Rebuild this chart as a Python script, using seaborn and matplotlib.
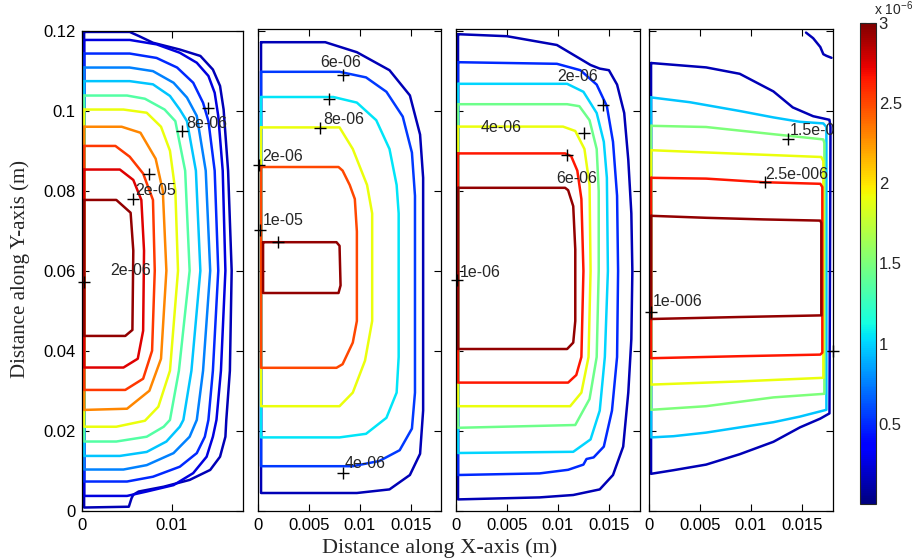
import matplotlib
matplotlib.use("Agg")
import matplotlib.pyplot as plt
import seaborn as sns
import pandas as pd
from matplotlib.cm import ScalarMappable
from matplotlib.colors import Normalize

# ---- data: contour levels (x 1e-6, colour bar scale) and outline vertices in metres ----
p1_levels = [0.15, 0.25, 0.5, 0.75, 0.95, 1.35, 1.9, 2.3, 2.55, 2.75, 2.95]
p1_xs = [
    [0.0002, 0.0053, 0.0063, 0.0079, 0.0109, 0.0132, 0.0146, 0.0154, 0.0158, 0.0163, 0.0167, 0.0165, 0.0161, 0.0160, 0.0154, 0.0143, 0.0120, 0.0091, 0.0063, 0.0057, 0.0055, 0.0052, 0.0002],
    [0.0002, 0.0053, 0.0083, 0.0109, 0.0128, 0.0141, 0.0148, 0.0152, 0.0157, 0.0160, 0.0155, 0.0150, 0.0146, 0.0139, 0.0124, 0.0102, 0.0072, 0.0050, 0.0002],
    [0.0002, 0.0053, 0.0083, 0.0106, 0.0124, 0.0135, 0.0141, 0.0148, 0.0152, 0.0146, 0.0141, 0.0137, 0.0128, 0.0109, 0.0079, 0.0050, 0.0002],
    [0.0002, 0.0053, 0.0079, 0.0102, 0.0117, 0.0128, 0.0138, 0.0143, 0.0135, 0.0128, 0.0120, 0.0102, 0.0072, 0.0046, 0.0002],
    [0.0002, 0.0053, 0.0079, 0.0098, 0.0109, 0.0117, 0.0127, 0.0132, 0.0122, 0.0113, 0.0109, 0.0094, 0.0072, 0.0042, 0.0002],
    [0.0002, 0.0050, 0.0070, 0.0092, 0.0104, 0.0115, 0.0120, 0.0108, 0.0098, 0.0091, 0.0072, 0.0038, 0.0002],
    [0.0002, 0.0046, 0.0072, 0.0088, 0.0098, 0.0104, 0.0107, 0.0098, 0.0085, 0.0070, 0.0038, 0.0002],
    [0.0002, 0.0044, 0.0065, 0.0082, 0.0090, 0.0094, 0.0088, 0.0075, 0.0050, 0.0002],
    [0.0002, 0.0037, 0.0053, 0.0068, 0.0079, 0.0081, 0.0078, 0.0068, 0.0048, 0.0002],
    [0.0002, 0.0042, 0.0057, 0.0066, 0.0069, 0.0068, 0.0062, 0.0046, 0.0002],
    [0.0002, 0.0038, 0.0054, 0.0057, 0.0056, 0.0048, 0.0002],
]
p1_ys = [
    [0.1197, 0.1197, 0.1187, 0.1170, 0.1153, 0.1137, 0.1103, 0.1062, 0.1003, 0.0850, 0.0600, 0.0350, 0.0227, 0.0185, 0.0135, 0.0102, 0.0077, 0.0060, 0.0048, 0.0040, 0.0031, 0.0010, 0.0008],
    [0.1177, 0.1177, 0.1166, 0.1145, 0.1120, 0.1087, 0.1045, 0.0987, 0.0850, 0.0600, 0.0350, 0.0227, 0.0185, 0.0135, 0.0094, 0.0064, 0.0048, 0.0037, 0.0037],
    [0.1143, 0.1143, 0.1132, 0.1108, 0.1070, 0.1020, 0.0974, 0.0850, 0.0600, 0.0350, 0.0227, 0.0185, 0.0144, 0.0110, 0.0085, 0.0073, 0.0073],
    [0.1108, 0.1108, 0.1099, 0.1070, 0.1033, 0.0987, 0.0850, 0.0600, 0.0350, 0.0227, 0.0185, 0.0144, 0.0114, 0.0103, 0.0103],
    [0.1074, 0.1074, 0.1066, 0.1037, 0.1003, 0.0974, 0.0850, 0.0600, 0.0350, 0.0227, 0.0210, 0.0173, 0.0147, 0.0137, 0.0137],
    [0.1038, 0.1038, 0.1030, 0.1003, 0.0974, 0.0850, 0.0600, 0.0350, 0.0227, 0.0210, 0.0185, 0.0173, 0.0173],
    [0.1003, 0.1003, 0.0995, 0.0960, 0.0900, 0.0800, 0.0600, 0.0350, 0.0260, 0.0225, 0.0210, 0.0210],
    [0.0960, 0.0960, 0.0945, 0.0880, 0.0800, 0.0600, 0.0380, 0.0300, 0.0255, 0.0252],
    [0.0912, 0.0912, 0.0885, 0.0843, 0.0777, 0.0600, 0.0400, 0.0330, 0.0302, 0.0302],
    [0.0853, 0.0853, 0.0827, 0.0777, 0.0650, 0.0450, 0.0380, 0.0358, 0.0358],
    [0.0777, 0.0777, 0.0745, 0.0650, 0.0452, 0.0437, 0.0437],
]
p1_mark_x = [0.0111, 0.0141, 0.0074, 0.0057, 0.0002]
p1_mark_y = [0.0949, 0.1006, 0.0842, 0.0779, 0.0572]
p1_labels = ["8e-06", "2e-05", "2e-06"]
p1_label_x = [0.0139, 0.0082, 0.0054]
p1_label_y = [0.0969, 0.0800, 0.0600]

p2_levels = [0.15, 0.55, 1.05, 1.9, 2.5, 2.95]
p2_xs = [
    [0.0003, 0.0066, 0.0097, 0.0129, 0.0149, 0.0159, 0.0162, 0.0162, 0.0159, 0.0149, 0.0129, 0.0097, 0.0003],
    [0.0003, 0.0080, 0.0106, 0.0126, 0.0142, 0.0151, 0.0154, 0.0154, 0.0151, 0.0139, 0.0119, 0.0093, 0.0003],
    [0.0003, 0.0074, 0.0097, 0.0116, 0.0129, 0.0136, 0.0138, 0.0138, 0.0136, 0.0126, 0.0106, 0.0080, 0.0003],
    [0.0003, 0.0080, 0.0093, 0.0107, 0.0112, 0.0112, 0.0105, 0.0093, 0.0080, 0.0003],
    [0.0003, 0.0079, 0.0083, 0.0090, 0.0095, 0.0097, 0.0097, 0.0093, 0.0083, 0.0077, 0.0003],
    [0.0005, 0.0077, 0.0080, 0.0081, 0.0079, 0.0005],
]
p2_ys = [
    [0.1172, 0.1172, 0.1147, 0.1102, 0.1039, 0.0941, 0.0833, 0.0251, 0.0143, 0.0090, 0.0054, 0.0045, 0.0045],
    [0.1098, 0.1098, 0.1084, 0.1048, 0.0986, 0.0896, 0.0788, 0.0296, 0.0206, 0.0152, 0.0125, 0.0112, 0.0112],
    [0.1035, 0.1035, 0.1021, 0.0977, 0.0905, 0.0815, 0.0744, 0.0385, 0.0296, 0.0233, 0.0193, 0.0184, 0.0184],
    [0.0959, 0.0959, 0.0905, 0.0815, 0.0744, 0.0475, 0.0376, 0.0296, 0.0262, 0.0262],
    [0.0860, 0.0860, 0.0851, 0.0815, 0.0780, 0.0699, 0.0475, 0.0421, 0.0367, 0.0358, 0.0358],
    [0.0672, 0.0672, 0.0663, 0.0564, 0.0545, 0.0545],
]
p2_mark_x = [0.0083, 0.0070, 0.0061, 0.0001, 0.0002, 0.0020, 0.0083]
p2_mark_y = [0.1090, 0.1030, 0.0957, 0.0865, 0.0703, 0.0672, 0.0094]
p2_labels = ["6e-06", "8e-06", "2e-06", "1e-05", "4e-06"]
p2_label_x = [0.0081, 0.0084, 0.0024, 0.0025, 0.0105]
p2_label_y = [0.1122, 0.0978, 0.0887, 0.0726, 0.0118]

p3_levels = [0.15, 0.5, 1.0, 1.45, 1.9, 2.65, 2.95]
p3_xs = [
    [0.0002, 0.0050, 0.0099, 0.0132, 0.0141, 0.0150, 0.0158, 0.0165, 0.0169, 0.0172, 0.0173, 0.0172, 0.0169, 0.0164, 0.0154, 0.0141, 0.0115, 0.0082, 0.0002],
    [0.0002, 0.0099, 0.0122, 0.0138, 0.0148, 0.0154, 0.0158, 0.0159, 0.0158, 0.0153, 0.0145, 0.0135, 0.0128, 0.0125, 0.0110, 0.0082, 0.0002],
    [0.0002, 0.0109, 0.0125, 0.0138, 0.0145, 0.0148, 0.0149, 0.0146, 0.0141, 0.0132, 0.0115, 0.0002],
    [0.0002, 0.0109, 0.0121, 0.0131, 0.0138, 0.0140, 0.0140, 0.0138, 0.0131, 0.0117, 0.0002],
    [0.0002, 0.0105, 0.0117, 0.0126, 0.0131, 0.0132, 0.0130, 0.0123, 0.0112, 0.0002],
    [0.0002, 0.0107, 0.0113, 0.0119, 0.0123, 0.0125, 0.0123, 0.0118, 0.0110, 0.0002],
    [0.0002, 0.0107, 0.0110, 0.0115, 0.0117, 0.0117, 0.0115, 0.0109, 0.0002],
]
p3_ys = [
    [0.1192, 0.1187, 0.1165, 0.1115, 0.1106, 0.1102, 0.1066, 0.0995, 0.0878, 0.0744, 0.0600, 0.0430, 0.0296, 0.0161, 0.0090, 0.0054, 0.0040, 0.0034, 0.0029],
    [0.1122, 0.1118, 0.1102, 0.1066, 0.1012, 0.0923, 0.0788, 0.0600, 0.0385, 0.0251, 0.0161, 0.0134, 0.0130, 0.0116, 0.0103, 0.0094, 0.0090],
    [0.1068, 0.1068, 0.1048, 0.0995, 0.0923, 0.0833, 0.0600, 0.0385, 0.0251, 0.0179, 0.0148, 0.0145],
    [0.1017, 0.1017, 0.1012, 0.0977, 0.0905, 0.0800, 0.0600, 0.0385, 0.0280, 0.0215, 0.0208],
    [0.0961, 0.0961, 0.0950, 0.0905, 0.0815, 0.0600, 0.0385, 0.0296, 0.0262, 0.0262],
    [0.0894, 0.0894, 0.0887, 0.0851, 0.0780, 0.0600, 0.0385, 0.0340, 0.0321, 0.0321],
    [0.0808, 0.0808, 0.0802, 0.0762, 0.0654, 0.0475, 0.0421, 0.0405, 0.0405],
]
p3_mark_x = [0.0144, 0.0126, 0.0109, 0.0001]
p3_mark_y = [0.1014, 0.0945, 0.0889, 0.0578]
p3_labels = ["2e-06", "4e-06", "6e-06", "1e-06"]
p3_label_x = [0.0119, 0.0044, 0.0118, 0.0024]
p3_label_y = [0.1086, 0.0960, 0.0831, 0.0596]

p4_levels = [0.15, 0.15, 0.95, 1.5, 1.9, 2.65, 2.95]
p4_xs = [
    [0.0154, 0.0161, 0.0168, 0.0171, 0.0174, 0.0179],
    [0.0002, 0.0056, 0.0089, 0.0122, 0.0141, 0.0161, 0.0177, 0.0178, 0.0177, 0.0168, 0.0148, 0.0122, 0.0089, 0.0056, 0.0024, 0.0002],
    [0.0002, 0.0040, 0.0089, 0.0122, 0.0148, 0.0171, 0.0174, 0.0174, 0.0148, 0.0122, 0.0089, 0.0056, 0.0024, 0.0002],
    [0.0002, 0.0056, 0.0122, 0.0171, 0.0172, 0.0172, 0.0122, 0.0056, 0.0002],
    [0.0002, 0.0089, 0.0169, 0.0171, 0.0171, 0.0089, 0.0002],
    [0.0002, 0.0056, 0.0112, 0.0168, 0.0170, 0.0170, 0.0168, 0.0089, 0.0002],
    [0.0002, 0.0056, 0.0112, 0.0168, 0.0169, 0.0169, 0.0168, 0.0089, 0.0002],
]
p4_ys = [
    [0.1196, 0.1182, 0.1160, 0.1142, 0.1138, 0.1133],
    [0.1120, 0.1109, 0.1093, 0.1049, 0.1009, 0.0987, 0.0978, 0.0960, 0.0244, 0.0231, 0.0209, 0.0173, 0.0142, 0.0116, 0.0102, 0.0093],
    [0.1034, 0.1022, 0.1000, 0.0984, 0.0973, 0.0969, 0.0960, 0.0253, 0.0236, 0.0222, 0.0209, 0.0196, 0.0187, 0.0184],
    [0.0963, 0.0960, 0.0942, 0.0929, 0.0920, 0.0293, 0.0284, 0.0262, 0.0253],
    [0.0902, 0.0893, 0.0885, 0.0875, 0.0333, 0.0324, 0.0316],
    [0.0833, 0.0831, 0.0822, 0.0818, 0.0810, 0.0396, 0.0391, 0.0387, 0.0382],
    [0.0738, 0.0733, 0.0729, 0.0726, 0.0720, 0.0489, 0.0489, 0.0485, 0.0480],
]
p4_mark_x = [0.0136, 0.0114, 0.0002, 0.0180]
p4_mark_y = [0.0931, 0.0822, 0.0498, 0.0400]
p4_labels = ["1.5e-006", "2.5e-006", "1e-006"]
p4_label_x = [0.0138, 0.0114, 0.0004]
p4_label_y = [0.0951, 0.0842, 0.0525]

cbar_ticks = [0.5, 1, 1.5, 2, 2.5, 3]

# ---- style ----
sns.set_style("ticks")
plt.rcParams["font.family"] = ["Liberation Sans", "DejaVu Sans"]
plt.rcParams["xtick.direction"] = "in"
plt.rcParams["ytick.direction"] = "in"
serif = ["Liberation Serif", "DejaVu Serif"]
jet = matplotlib.colormaps["jet"]


def outline_frame(levels, xs, ys):
    rows = []
    for cid, (lev, cx, cy) in enumerate(zip(levels, xs, ys)):
        cx, cy = list(cx), list(cy)
        # contours that start on the symmetry edge close back along it
        if cx[0] < 0.001:
            cx.append(cx[0])
            cy.append(cy[0])
        for i, (x, y) in enumerate(zip(cx, cy)):
            rows.append({"x": x, "y": y, "level": lev, "cid": cid, "i": i})
    return pd.DataFrame(rows)


fig = plt.figure(figsize=(9.24, 5.6), dpi=100)
boxes = [
    [0.0891, 0.0880, 0.1742, 0.8571],
    [0.2792, 0.0875, 0.1986, 0.8607],
    [0.4935, 0.0875, 0.1986, 0.8607],
    [0.7024, 0.0875, 0.1986, 0.8607],
]
panels = [
    (p1_levels, p1_xs, p1_ys, p1_mark_x, p1_mark_y, p1_labels, p1_label_x, p1_label_y),
    (p2_levels, p2_xs, p2_ys, p2_mark_x, p2_mark_y, p2_labels, p2_label_x, p2_label_y),
    (p3_levels, p3_xs, p3_ys, p3_mark_x, p3_mark_y, p3_labels, p3_label_x, p3_label_y),
    (p4_levels, p4_xs, p4_ys, p4_mark_x, p4_mark_y, p4_labels, p4_label_x, p4_label_y),
]

for k, (box, pan) in enumerate(zip(boxes, panels)):
    levels, xs, ys, mx, my, labs, lx, ly = pan
    ax = fig.add_axes(box)
    df = outline_frame(levels, xs, ys)
    sns.lineplot(data=df, x="x", y="y", hue="level", units="cid", estimator=None,
                 sort=False, palette=jet, hue_norm=(0, 3), legend=False,
                 linewidth=1.8, ax=ax)
    ax.plot(mx, my, "+", color="black", ms=8, mew=1.0, clip_on=False)
    for t, x, y in zip(labs, lx, ly):
        if k == 3:
            ax.text(x, y, t, fontsize=11.5, ha="left", va="center", clip_on=True)
        else:
            ax.text(x, y, t, fontsize=11.5, ha="center", va="center")
    ax.set_xlim(0, 0.018)
    if k == 0:
        ax.set_ylim(0, 0.12)
        ax.set_xticks([0, 0.01])
        ax.set_xticklabels(["0", "0.01"])
        ax.set_yticks([0, 0.02, 0.04, 0.06, 0.08, 0.1, 0.12])
        ax.set_yticklabels(["0", "0.02", "0.04", "0.06", "0.08", "0.1", "0.12"])
    else:
        ax.set_ylim(0, 0.1205)
        ax.set_xticks([0, 0.005, 0.01, 0.015])
        ax.set_xticklabels(["0", "0.005", "0.01", "0.015"])
        ax.set_yticks([0, 0.02, 0.04, 0.06, 0.08, 0.1, 0.12])
        ax.set_yticklabels([])
    ax.set_xlabel("")
    ax.set_ylabel("")
    ax.tick_params(axis="both", which="both", top=True, right=True, length=5,
                   width=0.8, labelsize=12, pad=5, colors="black")
    for s in ax.spines.values():
        s.set_visible(True)
        s.set_linewidth(0.9)
        s.set_color("black")

# colour bar
cax = fig.add_axes([0.9307, 0.1, 0.0173, 0.859])
sm = ScalarMappable(norm=Normalize(0, 3), cmap=jet)
cb = fig.colorbar(sm, cax=cax, ticks=cbar_ticks)
cb.ax.set_yticklabels(["0.5", "1", "1.5", "2", "2.5", "3"])
cb.ax.tick_params(direction="in", left=True, right=True, length=4, width=0.8,
                  labelsize=12, pad=2)
cb.outline.set_linewidth(0.8)
fig.text(0.946, 0.985, r"x 10$^{\mathregular{-6}}$", fontsize=10, ha="left", va="center")

fig.text(0.476, 0.021, "Distance along X-axis (m)", family=serif, fontsize=16,
         ha="center", va="center")
fig.text(0.022, 0.52, "Distance along Y-axis (m)", family=serif, fontsize=15,
         ha="center", va="center", rotation=90)

fig.savefig("out.png", dpi=100)
